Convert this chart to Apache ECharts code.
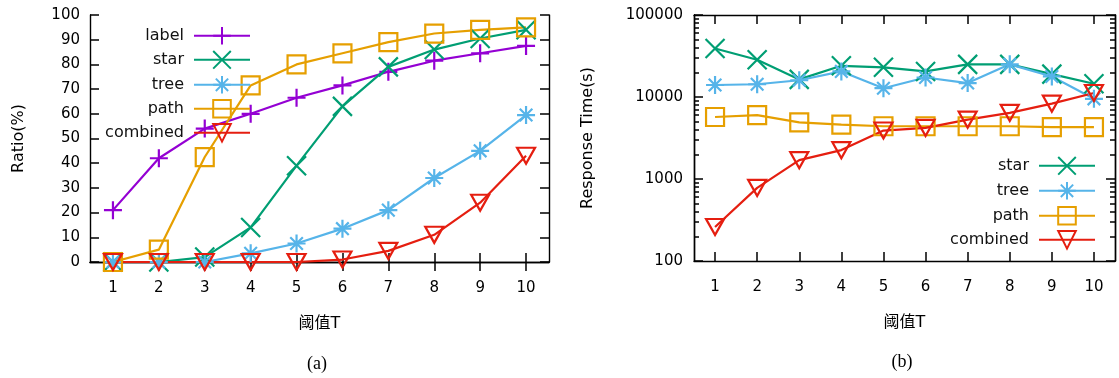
<!DOCTYPE html>
<html>
<head>
<meta charset="utf-8">
<script src="https://cdn.jsdelivr.net/npm/echarts@6/dist/echarts.min.js"></script>
<style>
  html, body { margin: 0; padding: 0; background: #fff; }
  #chart { width: 1119px; height: 378px; }
</style>
</head>
<body>
<div id="chart"></div>
<script>
// 阈值T
const xLabels = ['1', '2', '3', '4', '5', '6', '7', '8', '9', '10'];

// (a) Ratio(%)
const labelRatio = [21, 42, 54, 60, 66.5, 71.5, 77, 81.5, 84.5, 87.5];
const starRatio = [0, 0, 2, 14, 39, 63, 79, 86, 90.5, 94];
const treeRatio = [0, 0, 0, 3.5, 7.5, 13.5, 21, 34, 45, 59.5];
const pathRatio = [0, 5, 42.5, 71.5, 80, 84.5, 89, 92.5, 94, 95];
const combinedRatio = [0, 0, 0, 0, 0, 1, 4.5, 11, 24, 43];

// (b) Response Time(s)
const starTime = [39000, 28500, 16400, 24000, 23000, 20500, 25000, 25000, 19000, 14500];
const treeTime = [14000, 14300, 16000, 20500, 12800, 17300, 14800, 25000, 17800, 9500];
const pathTime = [5700, 6000, 4900, 4600, 4400, 4400, 4400, 4400, 4300, 4300];
const combinedTime = [260, 780, 1700, 2250, 3900, 4200, 5300, 6400, 8300, 11200];

// minor ticks of the log axis (2..9 in each decade)
const logMinorTicks = [200, 300, 400, 500, 600, 700, 800, 900,
  2000, 3000, 4000, 5000, 6000, 7000, 8000, 9000,
  20000, 30000, 40000, 50000, 60000, 70000, 80000, 90000];

const FONT = '"DejaVu Sans", "Noto Sans CJK SC", sans-serif';
const colors = {
  label: '#9400d3',
  star: '#009e73',
  tree: '#56b4e9',
  path: '#e69f00',
  combined: '#e51e10'
};
const symbols = {
  label: 'path://M10,0 L10,20 M0,10 L20,10',
  star: 'path://M0,0 L20,20 M20,0 L0,20',
  tree: 'path://M10,0 L10,20 M0,10 L20,10 M3,3 L17,17 M17,3 L3,17',
  path: 'path://M0,0 L20,0 L20,20 L0,20 Z',
  combined: 'path://M0,0 L20,0 L10,18 Z'
};
const sizes = { label: 18, star: 19, tree: 18, path: 18, combined: [18, 16] };

function mkSeries(name, data, xi, yi) {
  return {
    name: name,
    type: 'line',
    xAxisIndex: xi,
    yAxisIndex: yi,
    data: data,
    symbol: symbols[name],
    symbolSize: sizes[name],
    showAllSymbol: true,
    animation: false,
    itemStyle: { color: 'transparent', borderColor: colors[name], borderWidth: 2.2 },
    lineStyle: { color: colors[name], width: 2.2 },
    emphasis: { disabled: true },
    z: 3
  };
}

const axisBlack = { lineStyle: { color: '#000', width: 1.4 } };
const tickBlack = { color: '#000', width: 1.5 };

function catAxis(gi, pos, showLabel) {
  return {
    type: 'category', gridIndex: gi, position: pos, data: xLabels,
    boundaryGap: true,
    axisLine: axisBlack,
    axisTick: { show: true, inside: true, alignWithLabel: true, length: 9, lineStyle: tickBlack },
    axisLabel: { show: showLabel, color: '#000', fontFamily: FONT, fontSize: 15, margin: 19 },
    splitLine: { show: false },
    name: showLabel ? '阈值T' : '',
    nameLocation: 'middle',
    nameGap: 54,
    nameTextStyle: { color: '#000', fontFamily: FONT, fontSize: 16 }
  };
}

function ratioAxis(pos, showLabel) {
  return {
    type: 'value', gridIndex: 0, position: pos, min: 0, max: 100, interval: 10,
    axisLine: { show: true, lineStyle: { color: '#000', width: 1.4 } },
    axisTick: { show: true, inside: true, length: 9, lineStyle: tickBlack },
    axisLabel: { show: showLabel, color: '#000', fontFamily: FONT, fontSize: 15, margin: 10 },
    splitLine: { show: false },
    name: showLabel ? 'Ratio(%)' : '',
    nameLocation: 'middle',
    nameGap: 63,
    nameTextStyle: { color: '#000', fontFamily: FONT, fontSize: 16 }
  };
}

function timeAxis(pos, showLabel) {
  return {
    type: 'log', logBase: 10, gridIndex: 1, position: pos, min: 100, max: 100000,
    axisLine: { show: true, lineStyle: { color: '#000', width: 1.4 } },
    axisTick: { show: true, inside: true, length: 9, lineStyle: tickBlack },
    axisLabel: {
      show: showLabel, color: '#000', fontFamily: FONT, fontSize: 15, margin: 11,
      formatter: v => String(Math.round(v))
    },
    splitLine: { show: false },
    minorSplitLine: { show: false },
    name: showLabel ? 'Response Time(s)' : '',
    nameLocation: 'middle',
    nameGap: 98,
    nameTextStyle: { color: '#000', fontFamily: FONT, fontSize: 16 }
  };
}

// overlay axis in log10 space that only carries the minor ticks
function minorAxis(pos) {
  return {
    type: 'value', gridIndex: 1, position: pos, min: 2, max: 5,
    axisLine: { show: true, lineStyle: { color: '#000', width: 1.4 } },
    axisTick: { show: true, inside: true, length: 5, customValues: logMinorTicks.map(Math.log10), lineStyle: tickBlack },
    axisLabel: { show: false },
    splitLine: { show: false }
  };
}

function mkLegend(name, right, cy) {
  return {
    data: [name],
    right: right,
    top: cy - 11,
    orient: 'vertical',
    align: 'right',
    padding: 0,
    itemWidth: 56,
    itemHeight: 22,
    selectedMode: false,
    textStyle: { color: '#111', fontFamily: FONT, fontSize: 16, padding: [0, 5, 0, 0] }
  };
}

const chart = echarts.init(document.getElementById('chart'));
const option = {
  backgroundColor: '#fff',
  animation: false,
  grid: [
    { left: 90, top: 15, width: 459, height: 247 },
    { left: 694, top: 15, width: 421, height: 246 }
  ],
  xAxis: [
    catAxis(0, 'bottom', true),
    catAxis(0, 'top', false),
    catAxis(1, 'bottom', true),
    catAxis(1, 'top', false)
  ],
  yAxis: [
    ratioAxis('left', true),
    ratioAxis('right', false),
    timeAxis('left', true),
    minorAxis('left'),
    timeAxis('right', false),
    minorAxis('right')
  ],
  legend: [
    mkLegend('label', 868, 37),
    mkLegend('star', 868, 61),
    mkLegend('tree', 868, 86),
    mkLegend('path', 868, 110),
    mkLegend('combined', 868, 134),
    mkLegend('star', 23, 167),
    mkLegend('tree', 23, 192),
    mkLegend('path', 23, 217),
    mkLegend('combined', 23, 241)
  ],
  series: [
    mkSeries('label', labelRatio, 0, 0),
    mkSeries('star', starRatio, 0, 0),
    mkSeries('tree', treeRatio, 0, 0),
    mkSeries('path', pathRatio, 0, 0),
    mkSeries('combined', combinedRatio, 0, 0),
    mkSeries('star', starTime, 2, 2),
    mkSeries('tree', treeTime, 2, 2),
    mkSeries('path', pathTime, 2, 2),
    mkSeries('combined', combinedTime, 2, 2)
  ],
  graphic: [
    { type: 'text', x: 317, y: 364, style: { text: '(a)', fill: '#000', font: '18px "Liberation Serif", serif', textAlign: 'center', textVerticalAlign: 'middle' } },
    { type: 'text', x: 902, y: 362, style: { text: '(b)', fill: '#000', font: '18px "Liberation Serif", serif', textAlign: 'center', textVerticalAlign: 'middle' } }
  ]
};
chart.setOption(option);
</script>
</body>
</html>
